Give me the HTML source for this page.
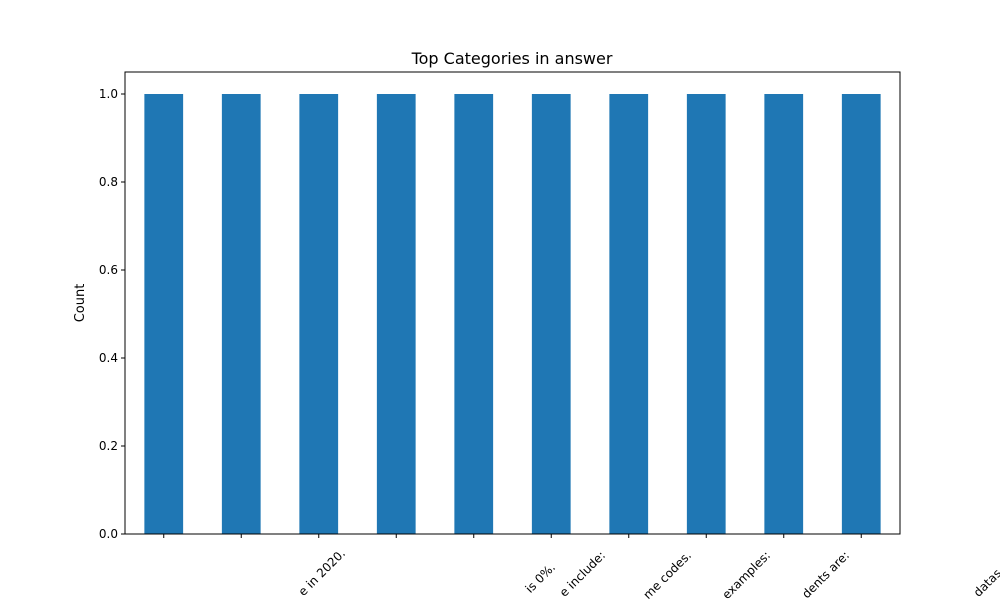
<!DOCTYPE html>
<html><head><meta charset="utf-8"><style>
html,body{margin:0;background:#fff;width:1000px;height:600px;overflow:hidden}
svg{display:block;overflow:hidden;font-family:"DejaVu Sans","Liberation Sans",sans-serif}
</style></head><body>
<svg width="1000" height="600" viewBox="0 0 1000 600">
<rect width="1000" height="600" fill="#fff"/>
<text x="512" y="64" font-size="16" text-anchor="middle">Top Categories in answer</text>
<text transform="translate(84,303) rotate(-90)" font-size="13" text-anchor="middle">Count</text>
<g id="bars"></g><g id="yt"></g><g id="xt"></g><g id="xl"></g>
<rect x="125" y="72" width="775" height="462" fill="none" stroke="#000" stroke-width="1"/>
</svg>
<script>
const categories=["Answer one about the dataset.","Answer two about the dataset.","The most common year of occurrence in 2020.","Answer four about the dataset.","Answer five about the dataset.","The percentage of value (NON) is 0%.","Those include:","The most frequent crime codes.","Some examples:","Top incidents are:"];
const values=[1,1,1,1,1,1,1,1,1,1];
const yTicks=[0,0.2,0.4,0.6,0.8,1.0];
const yTickLabels=["0.0","0.2","0.4","0.6","0.8","1.0"];
// visible label fragments (layout only): [categoryIndex, text, endX, endY]
const labelFrags=[[2,"e in 2020.",346,554],[5,"is 0%.",556,568],[5,"e include:",606,556],[6,"me codes.",692,556],[7,"examples:",771,556],[8,"dents are:",850,556],[9,"datas",1002,574]];
const NS="http://www.w3.org/2000/svg";
const x0=125,x1=900,y0=534,yTop=72,yMax=1.05;
const band=(x1-x0)/categories.length;
const xc=i=>x0+band*(i+0.5);
const ys=v=>y0-(v/yMax)*(y0-yTop);
const bars=document.getElementById('bars'),yt=document.getElementById('yt'),xt=document.getElementById('xt'),xl=document.getElementById('xl');
values.forEach((v,i)=>{const r=document.createElementNS(NS,'rect');const w=band*0.5;
r.setAttribute('x',xc(i)-w/2);r.setAttribute('y',ys(v));r.setAttribute('width',w);r.setAttribute('height',y0-ys(v));r.setAttribute('fill','#1f77b4');


bars.appendChild(r);
const t=document.createElementNS(NS,'line');t.setAttribute('x1',xc(i));t.setAttribute('x2',xc(i));t.setAttribute('y1',y0);t.setAttribute('y2',y0+4);t.setAttribute('stroke','#000');


xt.appendChild(t);});
yTicks.forEach((v,i)=>{const t=document.createElementNS(NS,'line');t.setAttribute('x1',x0-4);t.setAttribute('x2',x0);t.setAttribute('y1',ys(v));t.setAttribute('y2',ys(v));t.setAttribute('stroke','#000');


yt.appendChild(t);
const l=document.createElementNS(NS,'text');l.setAttribute('x',x0-7);l.setAttribute('y',ys(v)+4);l.setAttribute('text-anchor','end');l.setAttribute('font-size','12');l.textContent=yTickLabels[i];


yt.appendChild(l);});
labelFrags.forEach(f=>{const l=document.createElementNS(NS,'text');l.setAttribute('text-anchor','end');l.setAttribute('font-size','12');
l.setAttribute('transform','translate('+f[2]+','+f[3]+') rotate(-45)');l.textContent=f[1];


xl.appendChild(l);});
</script>
</body></html>
